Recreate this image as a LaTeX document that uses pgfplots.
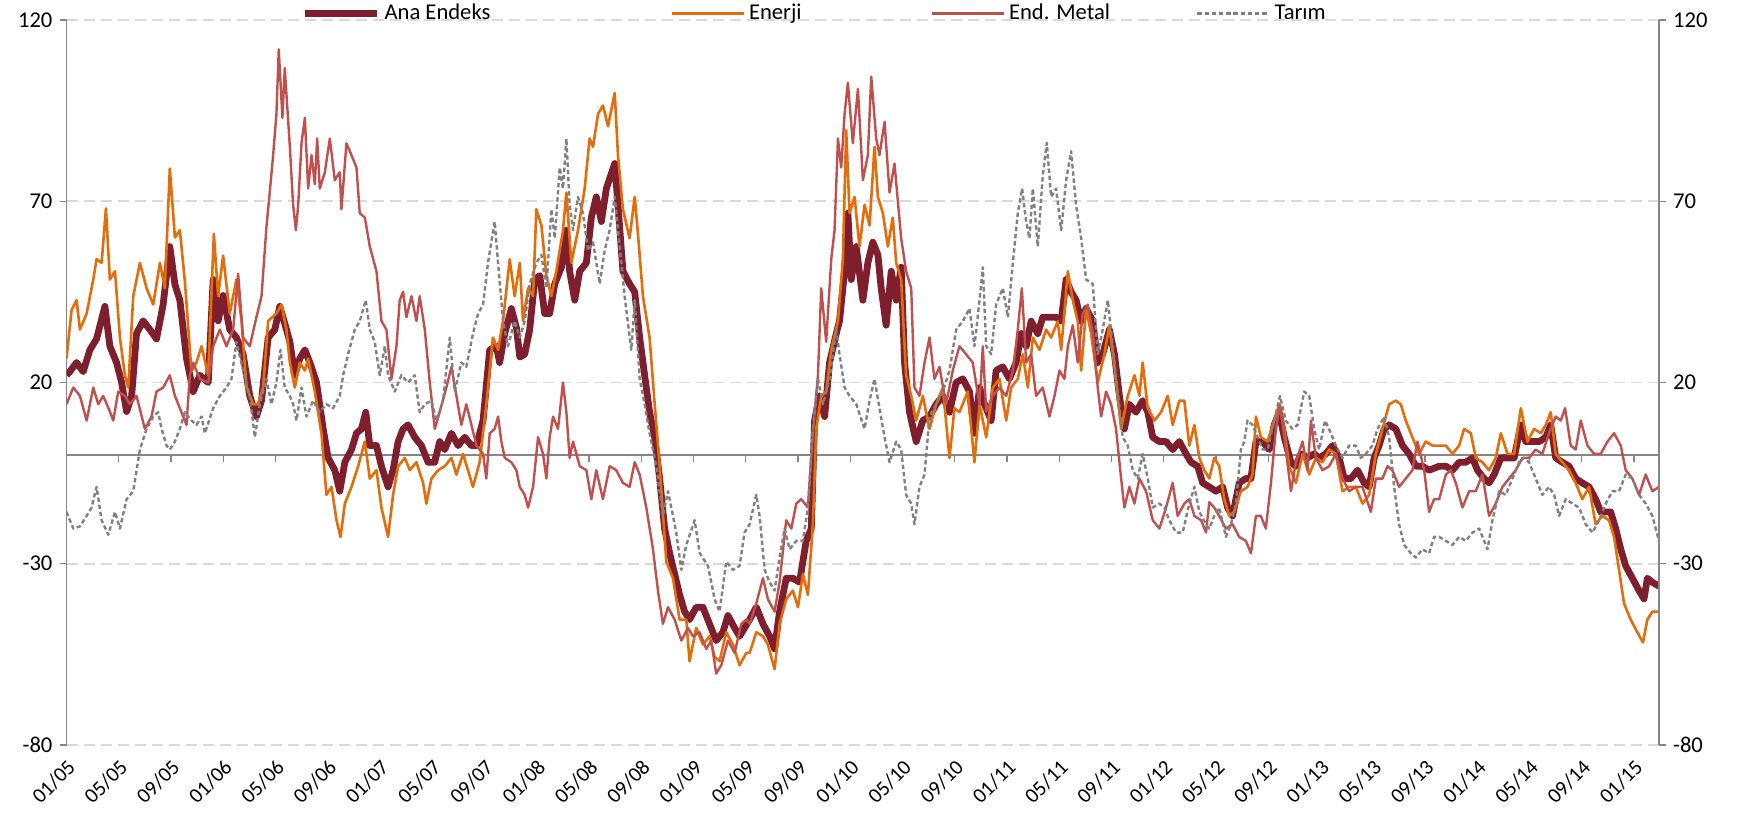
\documentclass[border=0pt]{standalone}
\usepackage{fontspec}
\setmainfont{Carlito}
\usepackage{pgfplots}
\pgfplotsset{compat=1.18}
\usetikzlibrary{calc}

\definecolor{anacol}{RGB}{127,31,45}
\definecolor{enerjicol}{RGB}{228,108,10}
\definecolor{metalcol}{RGB}{192,80,77}
\definecolor{tarimcol}{RGB}{128,128,128}
\definecolor{gridcol}{RGB}{217,217,217}
\definecolor{axcol}{RGB}{134,134,134}

\newcommand{\tfont}{\fontsize{11.3}{13}\selectfont}
\newcommand{\xfont}{\fontsize{10.5}{12}\selectfont}

\begin{document}
\begin{tikzpicture}
\pgfplotsset{
  base/.style={
    scale only axis, width=796.25pt, height=362.5pt,
    xmin=0, xmax=121.92, ymin=-80, ymax=120,
    ytick={-80,-30,20,70,120}, yticklabels={-80,-30,20,70,120},
    xtick={0,4,...,120},
    tick label style={font=\tfont, black},
    tick align=outside, major tick length=3.5pt,
  }
}
% main axis: data, grid, left scale, zero line with month ticks
\begin{axis}[base,
  axis x line*=middle, axis y line*=left,
  xticklabels={},
  axis line style={axcol, line width=0.7pt},
  tick style={axcol, line width=0.7pt},
  ymajorgrids, grid style={gridcol, line width=0.9pt, dash pattern=on 5.5pt off 3pt},
  legend columns=4,
  legend style={at={(0.1475,1.0092)}, anchor=west, draw=none, fill=none,
    font=\tfont, inner sep=0pt, column sep=0pt},
  legend image code/.code={\draw[#1] (0pt,0pt) -- (36pt,0pt);},
  every axis plot/.append style={line join=round},
]
\coordinate (sw) at (rel axis cs:0,0);
\coordinate (ne) at (rel axis cs:1,1);

\addplot[anacol, line width=3.4pt] coordinates {
(0,22)(0.26,23)(0.77,25.5)(1.28,23)(1.79,29)(2.30,32)(2.94,41)(3.32,30)(3.83,25.5)(4.22,20)(4.60,12)(4.98,16)(5.36,33.5)(5.87,37)(6.38,34.6)(6.89,32)(7.40,41.5)(7.91,57.5)(8.30,47)(8.68,42.7)(9.19,26.6)(9.70,17.5)(10.21,22)(10.85,20)(11.23,48.4)(11.61,37)(11.99,44)(12.50,34.6)(13.01,32.4)(13.52,27.8)(14.03,16.3)(14.54,10.6)(14.93,15)(15.44,32.4)(15.95,34.6)(16.33,41)(16.84,34.6)
(17.10,31.2)(17.48,22)(17.86,26.6)(18.25,29)(18.63,25.5)(19.14,20)(19.65,7.2)(20.03,-0.8)(20.54,-4.2)(20.92,-10)(21.31,-2)(21.82,1.5)(22.20,6)(22.58,7.2)(22.91,11.8)(23.22,2.6)(23.73,2.6)(24.11,-3.1)(24.62,-8.8)(25.00,-4.2)(25.39,3.7)(25.77,7.2)(26.15,8.3)(26.66,4.9)(27.17,2.6)(27.68,-2)(28.19,-2)(28.57,3.7)(28.96,1.5)(29.47,6)(29.98,2.6)(30.49,4.9)(31.00,2.6)(31.38,2.6)(31.89,9.5)(32.40,29)(32.91,30)(33.16,25.5)(33.55,33.5)(34.06,40.4)(34.45,35)
(34.70,27)(35.08,27.8)(35.46,34.6)(35.85,48.4)(36.23,49.5)(36.61,39)(36.99,39)(37.38,47.2)(37.89,51.8)(38.27,62)(38.52,50.7)(38.91,42.7)(39.29,50.7)(39.80,53)(40.18,65.5)(40.56,71.2)(40.95,64.4)(41.33,73.5)(41.97,80.4)(42.22,69)(42.60,50.7)(43.11,47.2)(43.50,45)(43.88,32.4)(44.26,22)(44.64,11.8)(45.03,4.9)(45.41,-6.5)(45.79,-20.3)(46.17,-27)(46.56,-32.9)(46.94,-38.6)(47.32,-43.2)(47.70,-45.4)(48.21,-42)(48.72,-42)(49.23,-46.6)(49.74,-51.2)(50.25,-48.9)(50.64,-44.3)(51.15,-47.7)(51.53,-50)(51.91,-47.7)
(52.30,-45.4)(52.81,-42)(53.32,-46.6)(53.83,-50)(54.21,-53.5)(54.59,-43.2)(55.10,-34)(55.61,-34)(56.12,-35.1)(56.63,-23.7)(57.02,-20.3)(57.27,9.5)(57.65,16.3)(58.04,10.6)(58.42,25.5)(58.93,33.5)(59.18,37)(59.57,50.7)(59.82,66.7)(60.08,48.4)(60.46,57.5)(60.97,42.7)(61.35,53)(61.73,58.7)(62.12,55.2)(62.37,46)(62.75,35.8)(63.14,50.7)(63.52,42.7)(63.90,51.8)(64.16,25.5)(64.54,11.8)(65.05,3.7)(65.56,9.5)(66.07,10.6)(66.58,14)(67.09,16.3)(67.60,11.8)(68.11,20)(68.62,21)(69.13,17.5)(69.51,6)
(69.90,18.6)(70.28,14)(70.79,9.5)(71.17,23.3)(71.68,24.3)(72.19,21)(72.70,25.5)(73.09,33.5)(73.47,30)(73.85,36.9)(74.36,33.5)(74.74,38)(75.25,38)(75.76,38)(76.15,36.9)(76.53,48.4)(76.91,45)(77.29,42.7)(77.68,36.9)(78.06,40.4)(78.57,36.9)(78.95,25.5)(79.33,27.8)(79.84,34.6)(80.23,27.8)(80.61,16.3)(80.99,7.2)(81.37,14)(81.88,11.8)(82.39,15)(82.78,11.8)(83.16,4.9)(83.67,3.7)(84.18,3.7)(84.69,1.5)(85.20,3.7)(85.71,0.3)(86.09,-2)(86.60,-3.1)(86.98,-7.7)
(87.49,-8.8)(88.00,-10)(88.51,-8.8)(88.89,-14.5)(89.27,-16.8)(89.78,-7.7)(90.29,-6.5)(90.68,-6.5)(91.06,3.7)(91.57,3.7)(92.08,1.5)(92.46,8.3)(92.84,11.8)(93.23,4.9)(93.74,-2)(94.12,-3.1)(94.50,0.3)(95.01,-0.8)(95.52,0.3)(95.90,-0.8)(96.41,0.3)(96.92,2.6)(97.43,-0.8)(97.82,-6.5)(98.33,-6.5)(98.84,-4.2)(99.35,-7.7)(99.73,-8.8)(100.11,-0.8)(100.49,2.6)(100.88,7.2)(101.26,8.3)(101.77,7.2)(102.28,2.6)(102.79,0.3)(103.30,-3.1)(103.81,-3.1)(104.32,-4.2)
(105.09,-3.1)(105.60,-3.1)(106.11,-4.2)(106.62,-2)(107.13,-2)(107.64,-0.8)(108.02,-4.2)(108.53,-6.5)(108.91,-7.7)(109.30,-5.4)(109.81,-0.8)(110.32,-0.8)(110.83,-0.8)(111.34,8.3)(111.72,3.7)(112.23,3.7)(112.74,3.7)(113.25,4.9)(113.63,8.3)(114.01,-0.8)(114.52,-2)(115.03,-3.1)(115.54,-6.5)(116.05,-7.7)(116.56,-8.8)(117.07,-12.2)(117.46,-15.7)(117.84,-15.7)(118.22,-15.7)(118.60,-20.3)(118.99,-26)(119.37,-30.6)(119.88,-34)(120.39,-37.4)(120.77,-39.7)(121.03,-34)(121.41,-35.1)(121.92,-36.2)
};
\addlegendentry{Ana Endeks\hspace*{88pt}}

\addplot[enerjicol, line width=1.3pt] coordinates {
(0,26.6)(0.39,40)(0.77,42.7)(1.03,34.6)(1.54,39)(2.05,48.4)(2.30,54)(2.69,53)(3.02,68)(3.32,48.4)(3.71,50.7)(4.09,32.4)(4.47,22)(4.73,18.6)(5.11,43.8)(5.62,53)(6.13,46)(6.64,41.5)(7.15,53)(7.53,46)(7.91,79)(8.30,60)(8.68,62)(9.06,48)(9.57,23)(9.95,25.5)(10.34,30)(10.85,22)(11.28,61)(11.61,43.8)(11.99,55)(12.50,39)(13.01,48.4)(13.40,37)(13.78,18.6)(14.29,14)(14.67,14)(15.05,18.6)(15.44,37)(16.07,39)(16.46,41.5)(16.84,34.6)
(17.10,25.5)(17.48,18.6)(17.86,25.5)(18.25,23.3)(18.50,26.6)(19.01,17.5)(19.52,6)(19.90,-11)(20.29,-8.8)(20.67,-18)(20.98,-22.6)(21.31,-13.4)(21.82,-8.8)(22.33,-3.1)(22.84,3.7)(23.22,-6.5)(23.73,-4.2)(24.11,-14.5)(24.62,-22.6)(25.00,-11)(25.39,-3.1)(25.90,-0.8)(26.28,-4.2)(26.79,-2)(27.30,-7.7)(27.55,-13.4)(27.94,-6.5)(28.45,-4.2)(28.96,-3.1)(29.47,-0.8)(29.85,-5.4)(30.36,0.3)(31.12,-8.8)(31.63,-2)(32.14,14)(32.65,32.4)(33.04,29)(33.42,37)(33.93,54)(34.31,43.8)
(34.70,53)(34.95,37)(35.34,46)(35.72,43.8)(35.97,67.8)(36.36,63.3)(36.74,49.5)(37.12,43.8)(37.50,50.7)(38.01,62)(38.27,72.4)(38.65,53)(39.16,62)(39.67,73.5)(40.05,87.3)(40.31,85)(40.69,94)(41.07,96.4)(41.46,90.7)(41.97,99.9)(42.22,82.7)(42.60,67.8)(43.11,59.8)(43.50,71.2)(43.75,61)(44.13,43.8)(44.64,32.4)(45.03,14)(45.41,-3.1)(45.92,-29.4)(46.43,-34)(46.94,-45.4)(47.45,-45.4)(47.70,-56.9)(48.21,-47.7)(48.72,-52.3)(49.23,-50)(49.62,-55.7)(50.00,-56.9)(50.51,-48.9)(51.02,-52.3)(51.53,-58)(52.04,-54.6)
(52.30,-54.6)(52.81,-48.9)(53.32,-50)(53.70,-52.3)(54.21,-59.1)(54.59,-46.6)(55.10,-39.8)(55.61,-37.4)(56.00,-42)(56.38,-32.9)(56.76,-38.6)(57.14,-19.1)(57.40,7.2)(57.78,16.3)(58.16,17.5)(58.55,29)(59.06,36.9)(59.44,54.1)(59.69,89.6)(59.95,66.7)(60.33,71.2)(60.71,57.5)(61.10,69)(61.48,63.3)(61.86,85)(62.12,71.2)(62.50,66.7)(62.88,57.5)(63.26,65.5)(63.52,53)(63.90,48.4)(64.28,22)(64.67,16.3)(65.05,9.5)(65.56,16.3)(66.07,7.2)(66.58,14)(67.09,18.6)(67.60,-0.8)(67.98,12.9)(68.36,11.8)(69.00,17.5)(69.51,-2)
(69.90,14)(70.41,4.9)(70.92,18.6)(71.43,21)(71.94,9.5)(72.32,18.6)(72.83,21)(73.21,27.8)(73.60,18.6)(73.98,32.4)(74.49,29)(75.00,34.6)(75.38,32.4)(75.89,36.9)(76.15,29)(76.66,50.7)(77.04,42.7)(77.42,36.9)(77.68,23.3)(78.06,40.4)(78.44,33.5)(78.95,20)(79.46,27.8)(79.84,35.8)(80.23,24.3)(80.74,7.2)(81.25,16.3)(81.76,22)(82.14,16.3)(82.39,25.5)(82.78,12.9)(83.29,9.5)(83.80,11.8)(84.31,16.3)(84.69,8.3)(85.20,15)(85.58,15)(85.96,2.6)(86.35,8.3)(86.73,-0.8)(87.11,-4.2)
(87.49,-6.5)(87.87,-0.8)(88.25,-3.1)(88.64,-12.2)(89.02,-16.8)(89.40,-15.7)(89.91,-10)(90.42,-8.8)(90.80,-5.4)(91.06,10.6)(91.44,4.9)(91.95,3.7)(92.46,9.5)(92.84,14)(93.23,7.2)(93.61,-3.1)(94.12,-7.7)(94.63,0.3)(95.14,-5.4)(95.65,-0.8)(96.16,-2)(96.67,1.5)(97.18,0.3)(97.69,-10)(98.20,-8.8)(98.71,-8.8)(99.22,-13.4)(99.73,-11)(100.24,0.3)(100.75,7.2)(101.26,14)(101.77,15)(102.15,14)(102.53,9.5)(103.04,4.9)(103.55,0.3)(104.06,3.7)(104.57,2.6)
(105.09,2.6)(105.60,2.6)(106.11,0.3)(106.62,2.6)(107.00,7.2)(107.51,6)(107.89,-0.8)(108.40,-2)(108.91,-4.2)(109.42,-0.8)(109.81,6)(110.32,0.3)(110.83,0.3)(111.34,12.9)(111.85,3.7)(112.36,7.2)(112.87,6)(113.25,8.3)(113.63,11.8)(114.01,0.3)(114.52,-2)(115.03,-4.2)(115.54,-7.7)(116.05,-12.2)(116.56,-8.8)(117.07,-19.1)(117.58,-16.8)(118.09,-18)(118.48,-22.6)(118.86,-31.7)(119.24,-40.9)(119.75,-45.4)(120.26,-48.9)(120.69,-51.7)(121.03,-45.4)(121.41,-43.2)(121.92,-43.2)
};
\addlegendentry{Enerji\hspace*{62.5pt}}

\addplot[metalcol, line width=1.2pt] coordinates {
(0,14)(0.52,18.6)(1.03,16.3)(1.54,9.5)(2.05,18.6)(2.43,14)(2.81,16.3)(3.32,12)(3.58,9.5)(3.96,17.5)(4.47,16.3)(4.85,14)(5.36,16.3)(6.00,7.2)(6.51,10.6)(6.89,17.5)(7.40,18.6)(7.91,22)(8.30,16.3)(8.68,12.9)(9.19,8.3)(9.44,22)(9.70,25.5)(10.21,21)(10.85,20)(11.23,30)(11.74,34.6)(12.25,30)(12.76,34.6)(13.14,50)(13.52,32.4)(14.03,30)(14.54,38)(14.93,43.8)(15.31,63)(15.56,72.4)(15.82,82.7)(16.07,94)(16.25,111.9)(16.53,93)(16.71,106.7)
(17.10,85)(17.35,69)(17.56,62)(17.74,69)(17.99,86)(18.25,93)(18.50,73.5)(18.76,82.7)(19.01,74.7)(19.19,87.3)(19.39,73.5)(19.78,78)(20.16,87.3)(20.54,75.8)(20.92,78)(21.05,67.8)(21.43,86)(21.82,82.7)(22.20,79.3)(22.45,66.7)(22.84,65.5)(23.22,57.5)(23.73,50.7)(24.11,37)(24.49,34.6)(24.88,21)(25.26,30)(25.51,42.7)(25.77,45)(26.02,38)(26.41,43.8)(26.79,37)(27.04,43.8)(27.43,34.6)(27.81,20)(28.19,7.2)(28.57,11.8)(29.08,18.6)(29.47,24.3)(29.85,16.3)(30.23,8.3)(30.61,14)(31.00,8.3)(31.38,2.6)(31.89,0.3)(32.14,-6.5)(32.40,6)(32.78,7.2)(33.04,10.6)(33.29,3.7)(33.55,-0.8)(34.06,-2)(34.44,-4.2)
(34.70,-8.8)(35.08,-11)(35.34,-14.5)(35.72,-8.8)(36.10,4.9)(36.48,0.3)(36.74,-6.5)(36.99,4.9)(37.25,10.6)(37.63,7.2)(38.01,20)(38.27,11.8)(38.52,-0.8)(38.78,3.7)(39.29,-3.1)(39.80,-4.2)(40.18,-12.2)(40.56,-4.2)(41.07,-12.2)(41.58,-3.1)(42.09,-4.2)(42.60,-7.7)(43.11,-8.8)(43.50,-2)(43.88,-5.4)(44.39,-14.5)(44.90,-26)(45.28,-37.4)(45.66,-46.6)(46.05,-42)(46.56,-45.4)(47.07,-51.2)(47.58,-47.7)(47.96,-50)(48.47,-48.9)(48.98,-53.5)(49.36,-51.2)(49.74,-60.3)(50.13,-58)(50.64,-51.2)(51.15,-54.6)(51.66,-46.6)(52.04,-45.4)
(52.30,-46.6)(52.81,-40.9)(53.32,-34)(53.70,-39.8)(54.21,-43.2)(54.59,-35.1)(55.10,-18)(55.49,-20.3)(55.87,-13.4)(56.25,-12.2)(56.76,-14.5)(57.14,6)(57.53,22)(57.78,46)(58.16,31.2)(58.55,54.1)(58.80,62)(59.06,87.3)(59.31,79.3)(59.57,94.1)(59.82,102.7)(60.20,86)(60.59,101)(60.97,75.8)(61.35,82.7)(61.61,104.4)(61.99,87.3)(62.24,82.7)(62.63,91.9)(63.01,72.4)(63.39,80.4)(63.90,59.8)(64.28,50.7)(64.67,46)(64.92,18.6)(65.30,16.3)(65.69,25.5)(66.07,32.4)(66.45,21)(66.83,24.3)(67.34,14)(67.85,23.3)(68.36,30)(68.87,27.8)(69.38,25.5)
(69.90,14)(70.15,30)(70.41,12)(70.92,16.3)(71.43,18.6)(71.94,16.3)(72.45,23.3)(72.83,34.6)(73.14,46)(73.47,25.5)(73.85,27.8)(74.23,16.3)(74.74,18.6)(75.25,10.6)(75.64,16.3)(76.02,23.3)(76.40,21)(76.66,30)(77.04,35.8)(77.42,25.5)(77.80,39.1)(78.19,41.5)(78.57,33.5)(78.95,18.6)(79.21,10.6)(79.59,17.5)(79.97,14)(80.35,7.2)(80.74,-6.5)(80.99,-14.5)(81.37,-8.8)(81.76,-13.4)(82.14,-6.5)(82.65,-10)(83.16,-18)(83.67,-20.3)(84.18,-14.5)(84.69,-7.7)(85.07,-16.8)(85.58,-13.4)(85.96,-12.2)(86.35,-16.8)(86.86,-18)(87.24,-21.4)
(87.49,-13)(87.87,-14.5)(88.25,-16.8)(88.76,-20.3)(89.27,-19.1)(89.78,-22.6)(90.29,-23.7)(90.68,-27.1)(91.06,-16.8)(91.44,-16.8)(91.82,-20.3)(92.21,-7.7)(92.59,7.2)(92.90,14)(93.23,4.9)(93.74,-10)(94.12,-2)(94.63,3.7)(95.01,-4.2)(95.27,9.5)(95.65,-0.8)(96.16,-4.2)(96.67,-3.1)(97.18,0.3)(97.69,-6.5)(98.20,-10)(98.71,-8.8)(99.22,-8.8)(99.86,-15.7)(100.24,-6.5)(100.75,-6.5)(101.13,-3.1)(101.51,-4.2)(102.02,-8.8)(102.53,-6.5)(103.04,-4.2)(103.43,3.7)(103.94,-4.2)(104.32,-15.7)(104.70,-12.2)
(105.09,-12.2)(105.60,-5.4)(105.98,-4.2)(106.36,-7.7)(106.87,-14.5)(107.38,-10)(107.89,-10)(108.40,-5.4)(108.91,-16.8)(109.42,-13.4)(109.93,-8.8)(110.44,-6.5)(110.95,-4.2)(111.46,-0.8)(111.97,-0.8)(112.48,1.5)(112.99,0.3)(113.50,6)(114.01,10.6)(114.40,9.5)(114.73,12.9)(115.16,2.6)(115.54,1.5)(115.93,9.5)(116.44,2.6)(116.95,0.3)(117.46,0.3)(117.97,3.7)(118.48,6)(118.99,2.6)(119.37,-4.2)(119.88,-6.5)(120.39,-11)(120.90,-5.4)(121.41,-10)(121.92,-8.8)
};
\addlegendentry{End. Metal\hspace*{41pt}}

\addplot[tarimcol, line width=1.2pt, dash pattern=on 2.2pt off 1.4pt] coordinates {
(0,-15.7)(0.52,-20.3)(1.03,-19.7)(1.54,-16.8)(1.92,-14.5)(2.30,-8.8)(2.69,-18)(3.20,-22)(3.71,-15.7)(4.09,-20.3)(4.60,-12.2)(5.11,-10)(5.62,1.5)(6.13,7.2)(6.64,10.6)(7.02,11.8)(7.28,7.2)(7.66,2.6)(7.91,1.5)(8.30,3.7)(8.68,7.2)(9.06,11.8)(9.57,9.5)(9.95,8.3)(10.34,10.6)(10.59,6)(11.23,12.9)(11.74,16.3)(12.25,18.6)(12.63,21)(13.01,31.2)(13.52,23.3)(14.03,16.3)(14.42,4.9)(14.80,14)(15.31,21)(15.69,14)(16.07,20)(16.38,29)(16.71,18.6)
(17.10,16.3)(17.35,14)(17.61,9.5)(17.99,18.6)(18.37,10.6)(18.88,15)(19.39,11.8)(19.90,14)(20.41,12.9)(20.92,16.3)(21.18,22)(21.56,27.8)(22.07,34.6)(22.45,36.9)(22.91,42.7)(23.22,34.6)(23.60,31.2)(23.98,22)(24.37,30)(24.62,22)(25.13,17.5)(25.64,22)(26.15,20)(26.66,22)(27.04,11.8)(27.43,14)(27.94,15)(28.32,9.5)(28.83,15)(29.34,32.4)(29.72,17.5)(30.23,25.5)(30.61,24.3)(31.12,33.5)(31.51,39)(31.89,41.5)(32.27,53)(32.78,64.4)(33.04,53)(33.42,37)(33.80,30)(34.31,37)
(34.70,32.4)(35.08,36.9)(35.46,47.2)(35.97,53)(36.36,55.2)(36.74,46)(37.12,67.8)(37.38,59.8)(37.76,79.3)(38.01,73.5)(38.27,87.3)(38.52,69)(38.78,62)(39.16,71.2)(39.54,66.7)(39.93,56.4)(40.31,58.7)(40.82,47.2)(41.20,56.4)(41.58,62)(41.97,71.2)(42.35,57.5)(42.73,43.8)(43.24,29)(43.50,42.7)(43.88,21)(44.26,14)(44.64,6)(45.15,-3.1)(45.66,-16.8)(46.05,-10)(46.43,-16.8)(46.68,-21.4)(47.07,-31.7)(47.45,-24.8)(48.09,-18)(48.47,-27)(49.11,-30.6)(49.62,-39.8)(50.00,-43.2)(50.51,-29.4)(51.02,-31.7)(51.53,-30.6)(51.91,-21.4)
(52.30,-19.1)(52.81,-11)(53.06,-16.8)(53.45,-31.7)(53.83,-35.1)(54.21,-37.4)(54.59,-28.3)(54.98,-20.3)(55.36,-26)(55.87,-23.7)(56.38,-23.7)(56.76,-14.5)(57.14,7.2)(57.53,21)(57.91,14)(58.42,21)(58.93,34.6)(59.18,27.8)(59.57,18.6)(59.95,16.3)(60.46,14)(61.10,7.2)(61.48,15)(61.86,21)(62.24,12.9)(62.63,4.9)(63.01,-2)(63.52,3.7)(63.90,1.5)(64.28,-11)(64.67,-13.4)(64.92,-19.1)(65.30,-8.8)(65.69,-5.4)(66.07,10.6)(66.58,14)(67.09,17.5)(67.60,23.3)(68.11,34.6)(68.62,36.9)(69.13,40.4)(69.51,30)
(69.90,42.7)(70.15,51.8)(70.41,30)(70.79,27.8)(71.17,41.5)(71.68,46)(72.07,38)(72.45,53)(72.83,66.7)(73.16,73.5)(73.47,64.4)(73.72,59.8)(73.98,73.5)(74.36,57.5)(74.74,77)(75.05,86.1)(75.38,71.2)(75.76,73.5)(76.15,62)(76.53,75.8)(76.91,83.8)(77.29,69)(77.68,59.8)(78.06,48.4)(78.57,47.2)(78.95,27.8)(79.33,34.6)(79.72,42.7)(80.10,30)(80.48,17.5)(80.86,4.9)(81.25,2.6)(81.63,-4.2)(82.01,-6.5)(82.39,0.3)(82.78,-6.5)(83.16,-14.5)(83.67,-13.4)(84.05,-14.5)(84.43,-18)(84.94,-21.4)(85.45,-21.4)(85.96,-13.4)(86.35,-8.8)(86.73,-15.7)(87.24,-19.1)
(87.49,-20.3)(87.87,-16.8)(88.25,-14.5)(88.76,-22.6)(89.15,-19.1)(89.53,-13.4)(89.91,1.5)(90.17,3.7)(90.42,9.5)(90.80,8.3)(91.19,4.9)(91.57,1.5)(91.95,1.5)(92.46,9.5)(92.90,16.3)(93.35,9.5)(93.86,7.2)(94.25,8.3)(94.76,17.5)(95.14,16.3)(95.52,7.2)(95.90,1.5)(96.36,9.5)(96.80,6)(97.18,2.6)(97.69,-0.8)(98.20,2.6)(98.71,2.6)(99.09,-0.8)(99.47,0.3)(99.98,2.6)(100.37,7.2)(100.88,10.6)(101.26,4.9)(101.64,-8.8)(102.02,-19.1)(102.41,-24.8)(102.92,-27.1)(103.30,-28.3)(103.81,-26)(104.32,-27.1)(104.70,-22.6)
(105.09,-22.6)(105.60,-23.7)(106.11,-24.8)(106.62,-22.6)(107.13,-23.7)(107.64,-21.4)(108.15,-20.3)(108.79,-26)(109.17,-18)(109.68,-10)(110.19,-11)(110.70,-6.5)(111.21,-2)(111.59,-0.8)(111.97,-2)(112.48,-6.5)(112.99,-11)(113.50,-8.8)(113.89,-11)(114.27,-16.8)(114.78,-12.2)(115.29,-13.4)(115.80,-14.5)(116.31,-19.1)(116.82,-21.4)(117.33,-18)(117.84,-13.4)(118.35,-10)(118.86,-10)(119.37,-5.4)(119.88,-6.5)(120.39,-11)(120.90,-13.4)(121.41,-16.8)(121.92,-23.7)
};
\addlegendentry{Tarım}
\end{axis}

% overlay: right scale and date labels at the bottom
\begin{axis}[base,
  axis x line*=bottom, axis y line*=right,
  x axis line style={draw=none},
  y axis line style={axcol, line width=0.9pt},
  ytick style={axcol, line width=0.7pt},
  xtick style={draw=none},
  xticklabels={01/05,05/05,09/05,01/06,05/06,09/06,01/07,05/07,09/07,01/08,05/08,09/08,01/09,05/09,09/09,01/10,05/10,09/10,01/11,05/11,09/11,01/12,05/12,09/12,01/13,05/13,09/13,01/14,05/14,09/14,01/15},
  xticklabel style={font=\xfont, xshift=5pt, yshift=-3.5pt, rotate=45, anchor=east},
]
\end{axis}

\pgfresetboundingbox
\path ($(sw)+(-33.25pt,-38.5pt)$) rectangle ($(ne)+(39.5pt,10pt)$);
\end{tikzpicture}
\end{document}
